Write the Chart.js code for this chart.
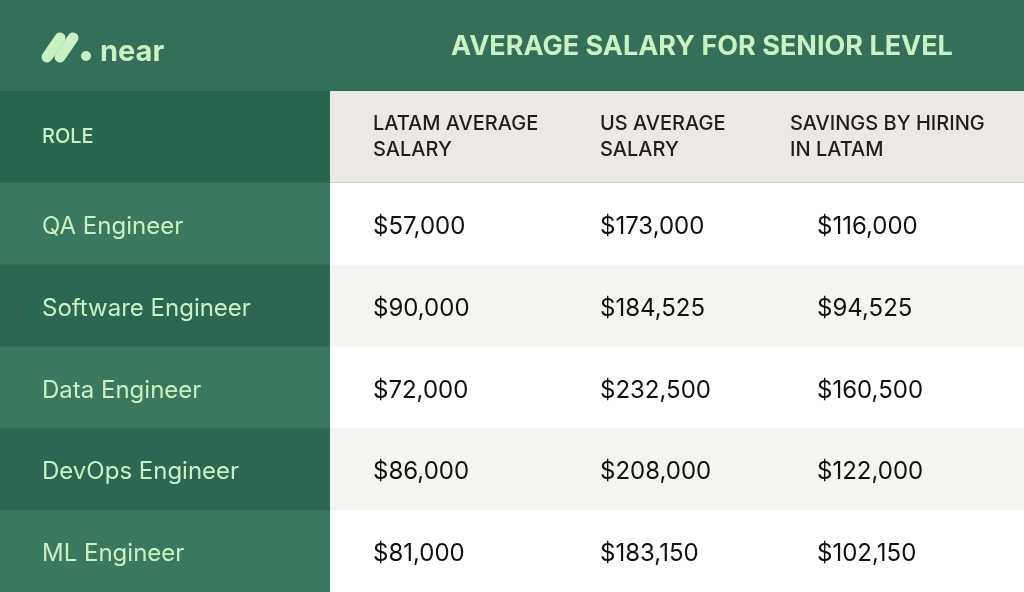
<!DOCTYPE html>
<html><head><meta charset="utf-8">
<script src="https://cdn.jsdelivr.net/npm/chart.js@4"></script>
<style>html,body{margin:0;padding:0;background:#346f59}#w{width:1024px;height:592px}</style>
</head><body><div id="w"><canvas id="c"></canvas></div>
<script>
const title = "AVERAGE SALARY FOR SENIOR LEVEL";
const roles = ["QA Engineer","Software Engineer","Data Engineer","DevOps Engineer","ML Engineer"];
const headers = ["ROLE","LATAM AVERAGE\nSALARY","US AVERAGE\nSALARY","SAVINGS BY HIRING\nIN LATAM"];
const latam = [57000,90000,72000,86000,81000];
const us = [173000,184525,232500,208000,183150];
const savings = [116000,94525,160500,122000,102150];
const fmt = v => "$" + v.toLocaleString("en-US");
const colX = [0,330,1024];
const textX = [42,373,600,790];
const savX = 817;
const HDR = 1.12;

const tablePlugin = {
  id:'table',
  beforeDraw(chart){
    const ctx = chart.ctx, y = chart.scales.y;
    const W = chart.width;
    ctx.save();
    ctx.fillStyle = '#346f59'; ctx.fillRect(0,0,W,chart.height);
    ctx.fillStyle = '#c9f2c2';
    ctx.lineCap='round'; ctx.strokeStyle='#c9f2c2'; ctx.lineWidth=11;
    ctx.beginPath(); ctx.moveTo(47,57); ctx.lineTo(60,38); ctx.stroke();
    ctx.beginPath(); ctx.moveTo(60,57); ctx.lineTo(73,38); ctx.stroke();
    ctx.beginPath(); ctx.arc(86,56,5,0,Math.PI*2); ctx.fill();
    ctx.font = 'bold 29px Inter'; ctx.textBaseline='alphabetic';
    ctx.fillText('near',100,61);
    ctx.font = 'bold 27px Inter'; ctx.textAlign='center';
    ctx.fillText(title,702,55);
    ctx.textAlign='left';
    const h0 = y.getPixelForValue(0), h1 = y.getPixelForValue(HDR);
    ctx.fillStyle = '#296650'; ctx.fillRect(colX[0],h0,colX[1],h1-h0);
    ctx.fillStyle = '#ece8e3'; ctx.fillRect(colX[1],h0,colX[2]-colX[1],h1-h0);
    ctx.font = '500 20px Inter'; ctx.fillStyle='#c9f2c2'; ctx.textBaseline='middle';
    ctx.fillText(headers[0],textX[0],(h0+h1)/2);
    ctx.fillStyle='#1e1e1e';
    for(let c=1;c<4;c++){
      const lines = headers[c].split('\n');
      lines.forEach((l,i)=>ctx.fillText(l,textX[c],(h0+h1)/2 - 13 + i*26));
    }
    roles.forEach((r,i)=>{
      const a = y.getPixelForValue(HDR+i), b = y.getPixelForValue(HDR+i+1), m=(a+b)/2+3;
      ctx.fillStyle = i%2===0 ? '#3a7860' : '#2b6752'; ctx.fillRect(colX[0],a,colX[1],b-a+1);
      ctx.fillStyle = i%2===0 ? '#ffffff' : '#f6f4f1'; ctx.fillRect(colX[1],a,colX[2]-colX[1],b-a+1);
      ctx.font = '24px Inter';
      ctx.fillStyle='#c9f2c2'; ctx.fillText(r,textX[0],m);
      ctx.fillStyle='#111';
      ctx.fillText(fmt(latam[i]),textX[1],m);
      ctx.fillText(fmt(us[i]),textX[2],m);
      ctx.fillText(fmt(savings[i]),savX,m);
    });
    ctx.restore();
  }
};

new Chart(document.getElementById('c'),{
  type:'scatter',
  data:{datasets:[{data:[]}]},
  options:{
    responsive:true, maintainAspectRatio:false, animation:false,
    layout:{padding:{top:91,left:0,right:0,bottom:0}},
    plugins:{legend:{display:false},tooltip:{enabled:false}},
    scales:{
      x:{display:false,min:0,max:1},
      y:{display:false,reverse:true,min:0,max:HDR+roles.length}
    }
  },
  plugins:[tablePlugin]
});
</script></body></html>
